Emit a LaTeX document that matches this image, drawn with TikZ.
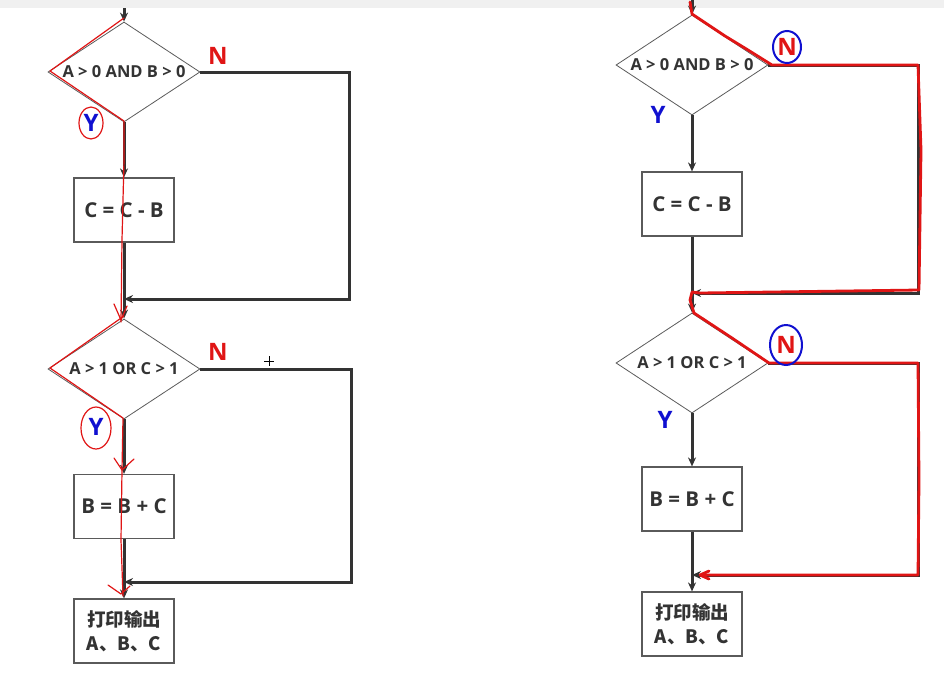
\documentclass[tikz,border=0pt]{standalone}
\usepackage{fontspec}
\setmainfont{Open Sans}
\newfontfamily\cjk{Noto Sans CJK SC}
\usetikzlibrary{shapes.geometric,arrows.meta}

\definecolor{ink}{HTML}{333333}
\definecolor{frame}{HTML}{5A5A5A}
\definecolor{pen}{HTML}{E01515}
\definecolor{bpen}{HTML}{1010D0}

\tikzset{
  cond/.style={diamond, draw=frame, line width=0.8pt, minimum width=152pt, minimum height=100pt,
    aspect=1.52, inner sep=0pt, text=ink, font=\bfseries\fontsize{16.5}{16.5}\selectfont},
  proc/.style={rectangle, draw=frame, line width=1.2pt, minimum width=100pt, minimum height=64pt,
    align=center, text=ink, font=\bfseries\fontsize{20.5}{24}\selectfont},
  flow/.style={draw=ink, line width=3pt, line join=miter, -{Stealth[length=9pt,width=8pt]}},
  nlab/.style={text=pen, font=\bfseries\fontsize{24}{24}\selectfont},
  ylab/.style={text=bpen, font=\bfseries\fontsize{24}{24}\selectfont},
  redpen/.style={draw=pen, line width=1.2pt, line cap=round, line join=round},
  bluepen/.style={draw=bpen, line width=2pt},
}
\newcommand\cjkline[1]{{\cjk\fontsize{18.5}{24}\selectfont #1}}

\begin{document}
\begin{tikzpicture}[x=1pt,y=-1pt]
  \useasboundingbox (0,0) rectangle (944,694);
  \fill[black!6] (0,0) rectangle (944,8);

  % left chart
  \coordinate (la0) at (124,8);
  \node[cond] (la1) at (124,72) {A > 0 AND B > 0};
  \node[proc] (la2) at (124,210) {C = C - B};
  \node[cond] (la3) at (124,369) {A > 1 OR C > 1};
  \node[proc] (la4) at (124,506.5) {B = B + C};
  \node[proc] (la5) at (124,631) {\cjkline{打印输出}\\\cjkline{A、B、C}};

  \coordinate (lr1) at (349,299);
  \coordinate (lm1) at (la1 |- lr1);
  \coordinate (lr2) at (351,582);
  \coordinate (lm2) at (la1 |- lr2);

  \draw[flow] (la0) -- (la1.north);
  \draw[flow] (la1.south) -- (la2.north);
  \draw[flow] (la2.south) -- (la3.north);
  \draw[flow] (la1.east) -| (lr1) -- (lm1);
  \draw[flow] (la3.south) -- (la4.north);
  \draw[flow] (la4.south) -- (la5.north);
  \draw[flow] (la3.east) -| (lr2) -- (lm2);

  \node[nlab] (ln1) at (218,56) {N};
  \node[ylab] (ly1) at (91,123) {Y};
  \node[nlab] (ln2) at (218,352) {N};
  \node[ylab] (ly2) at (96,427) {Y};

  % the cursor
  \draw[black, line width=0.5pt] (264,361) -- (274,361) (269,356) -- (269,366);

  % red marks, left
  \draw[redpen] (124,18) -- (50,71) -- (124,121) -- (124,160) -- (122,240) -- (121,322);
  \draw[redpen] (114,304) -- (121,320) -- (127,306);
  \draw[redpen] (91,123) ellipse (12 and 16);
  \draw[redpen] (124,316) -- (50,368) -- (123,418) -- (122,470) -- (121,540) -- (123,596);
  \draw[redpen] (114,458) -- (122,470) -- (134,459);
  \draw[redpen] (108,585) -- (121,594) -- (130,586);
  \draw[redpen] (96,428) ellipse (15 and 21);

  % right chart
  \coordinate (ra0) at (692,0);
  \node[cond] (ra1) at (692,65) {A > 0 AND B > 0};
  \node[proc] (ra2) at (692,204) {C = C - B};
  \node[cond] (ra3) at (692,363) {A > 1 OR C > 1};
  \node[proc] (ra4) at (692,499) {B = B + C};
  \node[proc] (ra5) at (692,624) {\cjkline{打印输出}\\\cjkline{A、B、C}};

  \coordinate (rr1) at (918,293);
  \coordinate (rm1) at (ra1 |- rr1);
  \coordinate (rr2) at (918,575);
  \coordinate (rm2) at (ra1 |- rr2);

  \draw[flow] (ra0) -- (ra1.north);
  \draw[flow] (ra1.south) -- (ra2.north);
  \draw[flow] (ra2.south) -- (ra3.north);
  \draw[flow] (ra1.east) -| (rr1) -- (rm1);
  \draw[flow] (ra3.south) -- (ra4.north);
  \draw[flow] (ra4.south) -- (ra5.north);
  \draw[flow] (ra3.east) -| (rr2) -- (rm2);

  \node[nlab] (rn1) at (787,47) {N};
  \node[ylab] (ry1) at (658,115) {Y};
  \node[nlab] (rn2) at (786,345) {N};
  \node[ylab] (ry2) at (665,420) {Y};

  % red marks, right
  \draw[redpen, line width=2.8pt] (690,2) -- (692,14) -- (725,36) -- (748,50) -- (772,65) -- (918,65)
    -- (921,150) -- (919,290) -- (700,293) -- (692,292) -- (690,300) -- (694,313) -- (732,338)
    -- (769,363) -- (918,363) -- (919,480) -- (918,575) -- (702,575);
  \draw[redpen, line width=2.8pt] (709,571) -- (700,575) -- (709,579);
  \draw[bluepen] (787,47) ellipse (14 and 16);
  \draw[bluepen] (786,345) ellipse (16 and 20);
\end{tikzpicture}
\end{document}
